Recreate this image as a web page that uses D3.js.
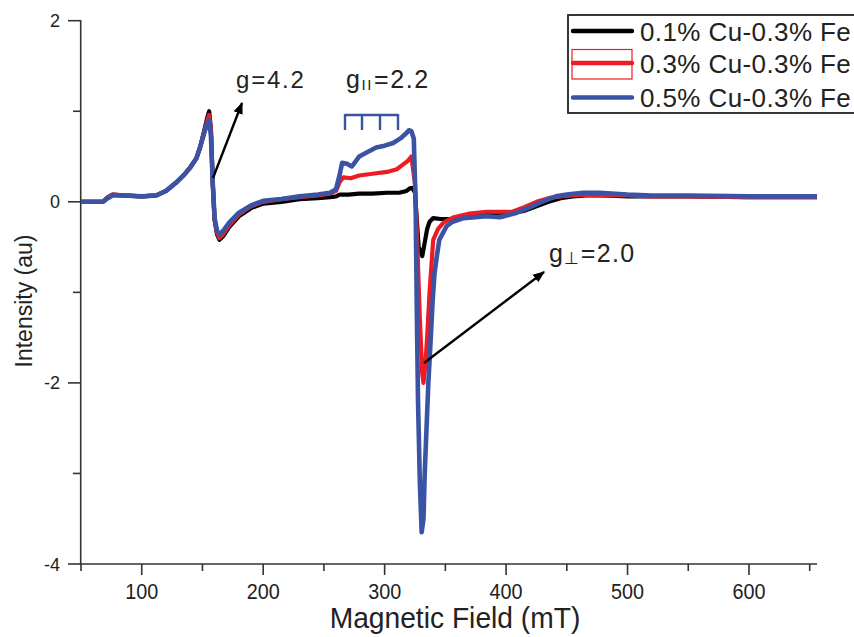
<!DOCTYPE html>
<html>
<head>
<meta charset="utf-8">
<script src="https://cdn.jsdelivr.net/npm/d3@7"></script>
<style>
  body { margin: 0; background: #fff; }
  svg { display: block; }
  .reg { font-family: "Liberation Sans", Arial, sans-serif; }
</style>
</head>
<body>
<div id="chart"></div>
<script>
// ---- data ----
var seriesNames = ["0.1% Cu-0.3% Fe", "0.3% Cu-0.3% Fe", "0.5% Cu-0.3% Fe"];
var seriesColors = ["#000000", "#ed1c24", "#3a53a4"];

var field01 = [50,60,68,72,76,85,100,112,120,129,135,140,145,148,151,154,155.5,157,158.5,160,162,164,167,172,180,190,200,215,230,245,255,260,263,270,279,290,302,312,318,321,323,325,326.5,328,331,333,335,337,340,346,356,370,384,395,405,415,425,435,445,455,466,480,500,520,550,600,650,656];
var int01   = [0,0,0,0.05,0.08,0.07,0.06,0.07,0.12,0.22,0.3,0.38,0.48,0.6,0.76,0.93,1.0,0.8,0.2,-0.2,-0.36,-0.42,-0.38,-0.28,-0.16,-0.07,-0.02,0.0,0.03,0.04,0.05,0.06,0.08,0.08,0.09,0.09,0.1,0.1,0.12,0.15,0.15,0.1,-0.2,-0.5,-0.6,-0.45,-0.3,-0.22,-0.18,-0.19,-0.19,-0.16,-0.13,-0.12,-0.12,-0.1,-0.05,0.0,0.04,0.06,0.07,0.07,0.06,0.06,0.06,0.05,0.05,0.05];

var field03 = [50,60,68,72,76,85,100,112,120,129,135,140,145,148,151,154,155.5,157,158.5,160,162,164,167,172,180,190,200,215,230,245,255,260,263,266,272,279,290,302,310,315,319,322,325,327,329,331,332,333.5,335,337,340,344,348.5,357,370,384,395,405,415,425,435,445,455,466,480,500,520,550,600,650,656];
var int03   = [0,0,0,0.05,0.08,0.07,0.06,0.07,0.12,0.22,0.3,0.38,0.48,0.6,0.75,0.9,0.96,0.78,0.2,-0.2,-0.34,-0.4,-0.36,-0.26,-0.14,-0.05,0.0,0.03,0.05,0.07,0.09,0.12,0.22,0.27,0.26,0.29,0.31,0.33,0.36,0.41,0.45,0.5,0.2,-0.5,-1.3,-1.9,-2.0,-1.8,-1.5,-1.0,-0.42,-0.3,-0.23,-0.17,-0.13,-0.11,-0.11,-0.11,-0.06,0.0,0.04,0.06,0.07,0.08,0.07,0.07,0.06,0.06,0.05,0.05,0.05];

var field05 = [50,60,68,72,76,85,100,112,120,129,135,140,145,148,151,154,155.5,157,158.5,160,162,164,167,172,180,190,200,215,230,245,255,260,263,265,269,273,279,286,293,300,307,313,318,320,322,324,325.5,326.5,327.5,329,330.5,332,333,334.5,336,338,339.5,341,343,345,351,356,365,384,395,409,420,428,435,441,450,463,477,500,520,550,600,650,656];
var int05   = [0,0,0,0.04,0.07,0.07,0.06,0.07,0.12,0.22,0.3,0.38,0.48,0.6,0.74,0.87,0.9,0.72,0.2,-0.18,-0.32,-0.36,-0.32,-0.23,-0.12,-0.04,0.01,0.03,0.06,0.08,0.1,0.14,0.3,0.43,0.42,0.39,0.5,0.55,0.6,0.62,0.65,0.7,0.76,0.79,0.78,0.7,0.0,-1.2,-2.2,-3.1,-3.65,-3.5,-3.0,-2.5,-2.0,-1.5,-1.1,-0.8,-0.6,-0.42,-0.27,-0.22,-0.18,-0.16,-0.17,-0.12,-0.06,-0.01,0.03,0.06,0.08,0.1,0.1,0.08,0.07,0.07,0.06,0.06,0.06];

var xTicks = [50,100,150,200,250,300,350,400,450,500,550,600,650];
var xLabels = [100,200,300,400,500,600];
var yTicks = [-4,-3,-2,-1,0,1,2];
var yLabels = [-4,-2,0,2];

// ---- layout ----
var width = 854, height = 637;
var svg = d3.select("#chart").append("svg")
  .attr("width", width).attr("height", height);

var x = d3.scaleLinear().domain([50, 656]).range([81, 817]);
var y = d3.scaleLinear().domain([-4, 2]).range([564, 20.7]);

var axisColor = "#333";

// x axis
var gx = svg.append("g");
gx.append("line").attr("x1", 80).attr("x2", 817).attr("y1", 564).attr("y2", 564)
  .attr("stroke", axisColor).attr("stroke-width", 1.6);
gx.selectAll(".xt").data(xTicks).enter().append("line")
  .attr("x1", d => x(d)).attr("x2", d => x(d))
  .attr("y1", 564).attr("y2", d => xLabels.indexOf(d) >= 0 ? 575 : 571)
  .attr("stroke", axisColor).attr("stroke-width", 1.6);
gx.selectAll(".xl").data(xLabels).enter().append("text")
  .attr("class", "reg")
  .attr("transform", d => "translate(" + x(d) + ",599) scale(0.9,1)")
  .attr("text-anchor", "middle").attr("font-size", 22).attr("fill", "#222")
  .text(d => d);
gx.append("text").attr("class", "reg")
  .attr("transform", "translate(455,628) scale(0.94,1)")
  .attr("text-anchor", "middle")
  .attr("font-size", 30).attr("fill", "#222")
  .text("Magnetic Field (mT)");

// y axis
var gy = svg.append("g");
gy.append("line").attr("x1", 80.7).attr("x2", 80.7).attr("y1", 20).attr("y2", 565)
  .attr("stroke", axisColor).attr("stroke-width", 1.6);
gy.selectAll(".yt").data(yTicks).enter().append("line")
  .attr("x1", 80.7).attr("x2", d => yLabels.indexOf(d) >= 0 ? 68 : 73)
  .attr("y1", d => y(d)).attr("y2", d => y(d))
  .attr("stroke", axisColor).attr("stroke-width", 1.6);
gy.selectAll(".yl").data(yLabels).enter().append("text")
  .attr("class", "reg")
  .attr("x", 60).attr("y", d => y(d) + 6.5)
  .attr("text-anchor", "end").attr("font-size", 18).attr("fill", "#222")
  .text(d => d);
gy.append("text").attr("class", "reg")
  .attr("transform", "translate(32,301) rotate(-90)")
  .attr("text-anchor", "middle").attr("font-size", 23).attr("fill", "#222")
  .text("Intensity (au)");

// ---- curves ----
var line = d3.line()
  .x(d => x(d[0])).y(d => y(d[1]));

var series = [
  d3.zip(field01, int01),
  d3.zip(field03, int03),
  d3.zip(field05, int05)
];

svg.append("g").selectAll("path").data(series).enter().append("path")
  .attr("d", line)
  .attr("fill", "none")
  .attr("stroke", (d, i) => seriesColors[i])
  .attr("stroke-width", (d, i) => i === 2 ? 4.6 : 4.2)
  .attr("stroke-linejoin", "round");

// ---- annotations ----
var defs = svg.append("defs");
defs.append("marker").attr("id", "arrow")
  .attr("viewBox", "0 0 10 10").attr("refX", 9).attr("refY", 5)
  .attr("markerWidth", 5).attr("markerHeight", 5)
  .attr("markerUnits", "strokeWidth")
  .attr("orient", "auto")
  .append("path").attr("d", "M0,1 L10,5 L0,9 Z").attr("fill", "#000");

var ann = svg.append("g");
ann.append("line").attr("x1", 213).attr("y1", 178).attr("x2", 242).attr("y2", 103)
  .attr("stroke", "#000").attr("stroke-width", 2.4).attr("marker-end", "url(#arrow)");
ann.append("line").attr("x1", 424).attr("y1", 363).attr("x2", 544).attr("y2", 272)
  .attr("stroke", "#000").attr("stroke-width", 2.4).attr("marker-end", "url(#arrow)");

ann.append("text").attr("class", "reg").attr("x", 236).attr("y", 88)
  .attr("font-size", 24).attr("letter-spacing", 1.8).attr("fill", "#222").text("g=4.2");

var t2 = ann.append("text").attr("class", "reg").attr("x", 346).attr("y", 88)
  .attr("font-size", 25).attr("letter-spacing", 1.6).attr("fill", "#222");
t2.append("tspan").text("g");
t2.append("tspan").attr("font-size", 15).attr("dy", 2).text("II");
t2.append("tspan").attr("dy", -2).attr("dx", 1).text("=2.2");

var t3 = ann.append("text").attr("class", "reg").attr("x", 549).attr("y", 262)
  .attr("font-size", 25).attr("letter-spacing", 1.4).attr("fill", "#222");
t3.append("tspan").text("g");
t3.append("tspan").attr("font-size", 17).attr("dy", 2).text("\u22A5");
t3.append("tspan").attr("dy", -2).text("=2.0");

// bracket over the parallel hyperfine lines
var bracketX = [345, 362, 380, 398];
ann.append("line").attr("x1", 345).attr("x2", 398).attr("y1", 115).attr("y2", 115)
  .attr("stroke", "#3a53a4").attr("stroke-width", 2.4);
ann.selectAll(".bk").data(bracketX).enter().append("line")
  .attr("x1", d => d).attr("x2", d => d).attr("y1", 114).attr("y2", 130)
  .attr("stroke", "#3a53a4").attr("stroke-width", 2.4);

// ---- legend ----
var lg = svg.append("g");
lg.append("rect").attr("x", 568).attr("y", 15).attr("width", 300).attr("height", 98)
  .attr("fill", "#fff").attr("stroke", "#222").attr("stroke-width", 1.8);
var rowsY = [31, 63, 97.5];
lg.append("rect").attr("x", 572).attr("y", 49.5).attr("width", 60).attr("height", 29.5)
  .attr("fill", "none").attr("stroke", "#ed1c24").attr("stroke-width", 1.2);
seriesNames.forEach(function(name, i) {
  lg.append("line").attr("x1", 573).attr("x2", 632)
    .attr("y1", rowsY[i]).attr("y2", rowsY[i])
    .attr("stroke", seriesColors[i]).attr("stroke-width", 4.4).attr("stroke-linecap", "round");
  lg.append("text").attr("class", "reg").attr("x", 640).attr("y", rowsY[i] + 9.5)
    .attr("font-size", 26).attr("letter-spacing", 0.4).attr("fill", "#222").text(name);
});
</script>
</body>
</html>
